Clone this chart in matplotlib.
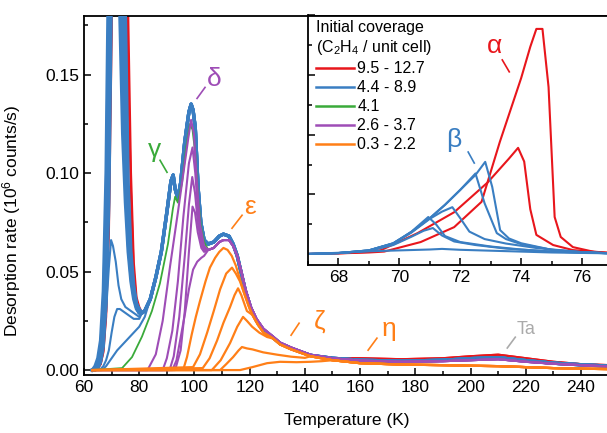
import matplotlib
matplotlib.use('Agg')
import matplotlib.pyplot as plt
from matplotlib.lines import Line2D
from matplotlib.ticker import MultipleLocator, FormatStrFormatter

plt.rcParams['font.family'] = ['Liberation Sans', 'DejaVu Sans']
plt.rcParams['mathtext.default'] = 'regular'

RED = '#e8161c'
BLUE = '#3a7ec2'
GREEN = '#3aaa3a'
PURPLE = '#9e4db6'
ORANGE = '#ff7f17'
GRAY = '#aaaaaa'

# ---- main panel, temperature (K) vs rate (1e6 counts/s) ----
# alpha region of the high-coverage curves
T_ALPHA = [63, 64, 65, 66, 67, 68, 69, 70, 71, 72, 73, 74, 75, 76, 77, 78, 79, 80]
ALPHA_B1 = [0, .002, .006, .015, .04, .1, .22, .5, .9, .6, .18, .12, .085, .06, .045, .036, .031, .029]
ALPHA_B2 = [0, .001, .004, .01, .03, .08, .18, .42, .9, .75, .3, .15, .1, .065, .048, .038, .032, .029]
ALPHA_B3 = [0, .001, .003, .008, .022, .06, .14, .35, .9, .8, .45, .18, .11, .07, .05, .039, .032, .029]
ALPHA_B4 = [0, 0, .002, .006, .016, .045, .11, .26, .85, .85, .6, .25, .14, .08, .055, .041, .033, .03]
ALPHA_B5 = [0, 0, .001, .004, .012, .035, .085, .2, .8, .85, .7, .35, .18, .095, .06, .043, .034, .031]
ALPHA_R1 = [0, 0, .001, .003, .01, .03, .08, .19, .75, .85, .8, .55, .3, .15, .09, .05, .035, .031]
ALPHA_R2 = [0, 0, .001, .003, .009, .027, .07, .17, .7, .85, .85, .65, .4, .18, .1, .055, .037, .032]

# common gamma / delta part of the saturated curves
T_MID = [81, 82, 84, 86, 88, 90, 91.5, 92.3, 93, 94, 95, 96.5, 98, 98.8, 99.5, 100.3, 101.3, 102.3, 103.5]
MID_BLUE = [.029, .03, .036, .047, .06, .08, .096, .099, .092, .087, .095, .116, .131, .135, .132, .123, .093, .075, .066]

# epsilon shoulder and decay
T_ENV = [105, 107, 109, 110.5, 112.5, 114, 115.5, 117, 118.5, 120.5, 122.5, 125, 128.5, 131, 135, 142, 150]
ENV_BLUE = [.064, .065, .068, .069, .068, .064, .058, .049, .04, .031, .025, .02, .0165, .0135, .011, .0075, .006]
ENV_PURPLE = [.061, .062, .065, .066, .066, .063, .058, .05, .041, .032, .026, .021, .017, .014, .0115, .0078, .006]

# high temperature tail (eta, Ta)
T_TAIL = [160, 175, 190, 200, 210, 220, 230, 240, 250]
TAIL_RED = [.006, .0055, .006, .007, .0078, .006, .0042, .003, .0025]
TAIL_BLUE = [.005, .0045, .005, .0058, .0063, .0048, .0035, .0027, .002]
TAIL_PURPLE = [.0048, .0042, .0045, .005, .0055, .0042, .0032, .0025, .0018]

# blue curves with small alpha peak
T_L1 = [63, 64.5, 66, 67, 68, 69, 69.8, 70.5, 71.5, 72.5, 73.5, 75, 77, 79, 80]
R_L1 = [0, .001, .006, .015, .03, .052, .066, .063, .055, .043, .036, .032, .03, .028, .027]
T_L2 = [63, 66, 67, 68, 69, 70, 71, 72, 73, 74, 75, 76, 78, 80]
R_L2 = [0, .0005, .002, .005, .01, .019, .027, .031, .031, .03, .029, .028, .026, .026]
T_L3 = [63, 66.5, 68, 70, 72, 74, 76, 78, 80, 82]
R_L3 = [0, 0, .002, .006, .01, .013, .016, .019, .022, .027]

# green 4.1
T_G = [63, 73.8, 77.4, 81, 84.6, 87.5, 90.4, 92.2, 93, 94, 95.5, 97, 98.4, 99.3, 100.3, 101.3, 102.3, 103.5]
R_G = [0, .001, .0066, .017, .03, .044, .064, .082, .088, .085, .095, .113, .125, .122, .11, .088, .073, .065]

# purple 2.6 - 3.7
T_P1 = [63, 83, 86, 88.5, 91.2, 94, 96.5, 97.8, 98.8, 99.8, 100.8, 102, 103.5]
R_P1 = [0, 0, .008, .025, .053, .08, .105, .118, .127, .12, .097, .074, .063]
T_P2 = [63, 88.5, 90, 92, 94, 96, 98, 99.3, 100.3, 101.3, 102.5, 103.5]
R_P2 = [0, 0, .006, .02, .045, .078, .105, .113, .1, .08, .066, .062]
T_P3 = [63, 91, 92.5, 94.5, 96.5, 98, 99.2, 100.2, 101.2, 102.5, 103.5]
R_P3 = [0, 0, .007, .027, .058, .084, .098, .09, .075, .064, .061]
T_P4 = [63, 93, 95, 96.5, 98, 99.3, 100.2, 101.2, 102.5, 103.5]
R_P4 = [0, 0, .01, .03, .06, .083, .08, .07, .062, .06]
T_P5 = [63, 92, 93.5, 94.8, 96.5, 98, 99.5, 101, 102.5, 103.5]
R_P5 = [0, 0, .005, .015, .028, .041, .051, .055, .057, .058]

# orange 0.3 - 2.2
T_O1 = [63, 96, 97.3, 99, 100.5, 102, 104, 105.6, 107.5, 109, 110.5, 112, 113.5, 115, 116.5, 118, 119.5]
R_O1 = [0, .0005, .0066, .018, .027, .035, .045, .052, .057, .06, .062, .061, .058, .053, .046, .039, .033]
T_O2 = [63, 99.5, 102, 104.6, 107, 109.3, 111.5, 113.6, 115, 116.5, 118, 120]
R_O2 = [0, .0015, .008, .019, .03, .041, .049, .052, .049, .045, .039, .031]
T_O3 = [63, 103, 105.5, 108.2, 110.5, 112.9, 114.5, 115.8, 117, 119]
R_O3 = [0, .001, .006, .015, .024, .032, .038, .0415, .038, .03]
T_O4 = [63, 106.3, 109.5, 112.9, 115.5, 117.6, 119, 120.9, 123.5, 126.3]
R_O4 = [0, 0, .005, .0137, .022, .027, .025, .022, .019, .0168]
T_O5 = [63, 109.3, 111.5, 114, 116, 117.2, 119, 121, 124.9, 130, 135, 140]
R_O5 = [0, 0, .003, .0066, .01, .0117, .011, .0105, .009, .0078, .0068, .0062]
T_O6 = [63, 116.5, 121, 126.3, 131, 137, 142, 146]
R_O6 = [0, 0, .0015, .0035, .0042, .004, .0042, .0045]
T_OTAIL = [121, 123, 125, 128.5, 131, 135, 142, 150, 160, 175, 190, 200, 210, 220, 230, 240, 250]
R_OTAIL = [.028, .023, .019, .016, .013, .0105, .007, .005, .0035, .0028, .0025, .0022, .002, .0015, .001, .0007, .0005]

# ---- inset, zoom on alpha / beta (arb. units) ----
T_RA = [67, 68, 69, 69.5, 70.7, 71.8, 72.7, 73.3, 74.0, 74.3, 74.5, 74.7, 74.9, 75.1, 75.3, 75.7, 76.4, 77]
U_RA = [0, .02, .05, .08, .4, .9, 1.75, 3.76, 5.9, 6.95, 7.55, 7.55, 5.6, 1.24, .57, .23, .07, .03]
T_RB = [67, 68, 69, 69.4, 70.6, 71.8, 72.9, 73.6, 73.9, 74.1, 74.3, 74.5, 75.05, 75.7, 77]
U_RB = [0, .02, .07, .13, .7, 1.4, 2.4, 3.2, 3.56, 3.1, 1.5, .64, .3, .13, .03]
T_BI1 = [67, 68, 69, 69.8, 70.4, 70.95, 71.2, 71.5, 72, 73, 74, 75, 77]
U_BI1 = [0, .03, .12, .35, .75, 1.24, 1.0, .6, .4, .25, .15, .08, .02]
T_BI2 = [67, 68, 69, 69.8, 70.4, 70.8, 71.1, 71.4, 71.8, 72.5, 73.5, 75, 77]
U_BI2 = [0, .03, .1, .3, .58, .78, .87, .62, .42, .3, .18, .08, .02]
T_BI3 = [67, 68, 69, 69.8, 70.4, 71, 71.4, 71.74, 72, 72.3, 72.8, 73.5, 74.5, 76, 77]
U_BI3 = [0, .03, .12, .35, .72, 1.18, 1.42, 1.57, 1.2, .75, .5, .35, .2, .06, .02]
T_BI4 = [67, 68, 69, 69.8, 70.4, 71, 71.5, 72, 72.5, 72.8, 73.2, 73.5, 74, 75, 76, 77]
U_BI4 = [0, .03, .12, .36, .74, 1.2, 1.65, 2.15, 2.7, 1.7, .7, .5, .33, .14, .06, .02]
T_BI5 = [67, 68, 69, 69.8, 70.4, 71, 71.5, 72, 72.5, 72.82, 73.05, 73.31, 73.6, 74, 75, 76, 77]
U_BI5 = [0, .03, .12, .36, .74, 1.2, 1.65, 2.15, 2.65, 3.09, 2.25, .8, .52, .36, .14, .06, .02]
T_BI6 = [67, 68, 69, 70, 71, 71.4, 72, 73, 74, 75, 77]
U_BI6 = [0, .04, .09, .12, .15, .17, .14, .11, .08, .05, .02]

LEGEND_LABELS = ['9.5 - 12.7', '4.4 - 8.9', '4.1', '2.6 - 3.7', '0.3 - 2.2']
LEGEND_COLORS = [RED, BLUE, GREEN, PURPLE, ORANGE]


def join(t_head, r_head, t_tail, r_tail):
    # continue a curve on a shared segment, from where the head stops
    t = list(t_head)
    r = list(r_head)
    for ti, ri in zip(t_tail, r_tail):
        if ti > t[-1]:
            t.append(ti)
            r.append(ri)
    return t, r


fig = plt.figure(figsize=(6.07, 4.33), dpi=100)
ax = fig.add_axes([84 / 607, 58 / 433, 524.6 / 607, 359.5 / 433])

T_SAT = T_ALPHA + T_MID + T_ENV + T_TAIL
for a in [ALPHA_R1, ALPHA_R2]:
    ax.plot(T_SAT, a + MID_BLUE + ENV_BLUE + TAIL_RED, color=RED, lw=1.6, zorder=2)
for a in [ALPHA_B1, ALPHA_B2, ALPHA_B3, ALPHA_B4, ALPHA_B5]:
    ax.plot(T_SAT, a + MID_BLUE + ENV_BLUE + TAIL_BLUE, color=BLUE, lw=2.4, zorder=3)
for t, r in [(T_L1, R_L1), (T_L2, R_L2), (T_L3, R_L3)]:
    t, r = join(t, r, T_MID, MID_BLUE)
    t, r = join(t, r, T_ENV + T_TAIL, ENV_BLUE + TAIL_BLUE)
    ax.plot(t, r, color=BLUE, lw=1.5, zorder=3)

t, r = join(T_G, R_G, T_ENV + T_TAIL, ENV_PURPLE + TAIL_PURPLE)
ax.plot(t, r, color=GREEN, lw=1.3, zorder=4)

for t, r in [(T_P1, R_P1), (T_P2, R_P2), (T_P3, R_P3), (T_P4, R_P4), (T_P5, R_P5)]:
    t, r = join(t, r, T_ENV + T_TAIL, ENV_PURPLE + TAIL_PURPLE)
    ax.plot(t, r, color=PURPLE, lw=1.5, zorder=5)

for t, r in [(T_O1, R_O1), (T_O2, R_O2), (T_O3, R_O3), (T_O4, R_O4), (T_O5, R_O5), (T_O6, R_O6)]:
    t, r = join(t, r, T_OTAIL, R_OTAIL)
    ax.plot(t, r, color=ORANGE, lw=1.6, zorder=6)

ax.set_xlim(60, 250)
ax.set_ylim(-0.0025, 0.18)
ax.xaxis.set_major_locator(MultipleLocator(20))
ax.xaxis.set_minor_locator(MultipleLocator(10))
ax.yaxis.set_major_locator(MultipleLocator(0.05))
ax.yaxis.set_minor_locator(MultipleLocator(0.025))
ax.yaxis.set_major_formatter(FormatStrFormatter('%.2f'))
ax.tick_params(which='both', direction='in', labelsize=12.5, width=1.1)
ax.tick_params(which='major', length=5)
ax.tick_params(which='minor', length=3)
for s in ax.spines.values():
    s.set_linewidth(1.3)
ax.set_xlabel('Temperature (K)', fontsize=12.5)
ax.set_ylabel('Desorption rate (10$^6$ counts/s)', fontsize=12.5)
ax.xaxis.set_label_coords(0.5, -0.106)
ax.yaxis.set_label_coords(-0.116, 0.43)

# peak names: (text, colour, text pos, leader start, leader end)
MAIN_NAMES = [
    ('\u03b3', GREEN, (85.4, .1116), (87.54, .1065), (90.07, .1004)),
    ('\u03b4', PURPLE, (107.1, .148), (103.84, .1435), (100.94, .1379)),
    ('\u03b5', ORANGE, (120.1, .0827), (117.25, .0786), (113.6, .072)),
    ('\u03b6', ORANGE, (145.2, .0245), (137.9, .0238), (135.0, .0177)),
    ('\u03b7', ORANGE, (170.5, .0208), (166.1, .0162), (162.9, .0101)),
]
for name, c, p, a, b in MAIN_NAMES:
    ax.text(p[0], p[1], name, color=c, fontsize=19, ha='center', va='center', zorder=8)
    ax.plot([a[0], b[0]], [a[1], b[1]], color=c, lw=1.2, zorder=8)
ax.text(220.1, .0208, 'Ta', color=GRAY, fontsize=13, ha='center', va='center', zorder=8)
ax.plot([216.2, 213.3], [.0167, .0112], color=GRAY, lw=1.2, zorder=8)

# ---- inset ----
ins = fig.add_axes([308 / 607, 168 / 433, 304.5 / 607, 249.5 / 433], zorder=10)
ins.set_facecolor('white')
ins.plot(T_RA, U_RA, color=RED, lw=1.5)
ins.plot(T_RB, U_RB, color=RED, lw=1.5)
for t, u in [(T_BI1, U_BI1), (T_BI2, U_BI2), (T_BI3, U_BI3), (T_BI4, U_BI4),
             (T_BI5, U_BI5), (T_BI6, U_BI6)]:
    ins.plot(t, u, color=BLUE, lw=1.5)
ins.set_xlim(67, 77)
ins.set_ylim(-0.37, 8.0)
ins.xaxis.set_major_locator(MultipleLocator(2))
ins.xaxis.set_minor_locator(MultipleLocator(1))
ins.yaxis.set_major_locator(MultipleLocator(2))
ins.yaxis.set_minor_locator(MultipleLocator(1))
ins.tick_params(which='both', direction='in', labelsize=12.5, width=1.1)
ins.tick_params(which='major', length=5)
ins.tick_params(which='minor', length=3)
ins.tick_params(axis='y', labelleft=False)
for s in ins.spines.values():
    s.set_linewidth(1.3)

ins.text(73.11, 6.98, '\u03b1', color=RED, fontsize=19, ha='center', va='center')
ins.plot([73.38, 73.61], [6.51, 6.11], color=RED, lw=1.2)
ins.text(71.80, 3.83, '\u03b2', color=BLUE, fontsize=19, ha='center', va='center')
ins.plot([72.26, 72.46], [3.42, 3.05], color=BLUE, lw=1.2)

handles = [Line2D([], [], color=c, lw=1.8) for c in LEGEND_COLORS]
leg = ins.legend(handles, LEGEND_LABELS, loc='upper left', bbox_to_anchor=(0.025, 0.98),
                 title='Initial coverage\n(C$_2$H$_4$ / unit cell)', title_fontsize=11.5,
                 fontsize=11.5, frameon=False, handlelength=2.4, handletextpad=0.2,
                 labelspacing=0.25, borderpad=0, borderaxespad=0, alignment='left')

fig.savefig('out.png', dpi=100)
